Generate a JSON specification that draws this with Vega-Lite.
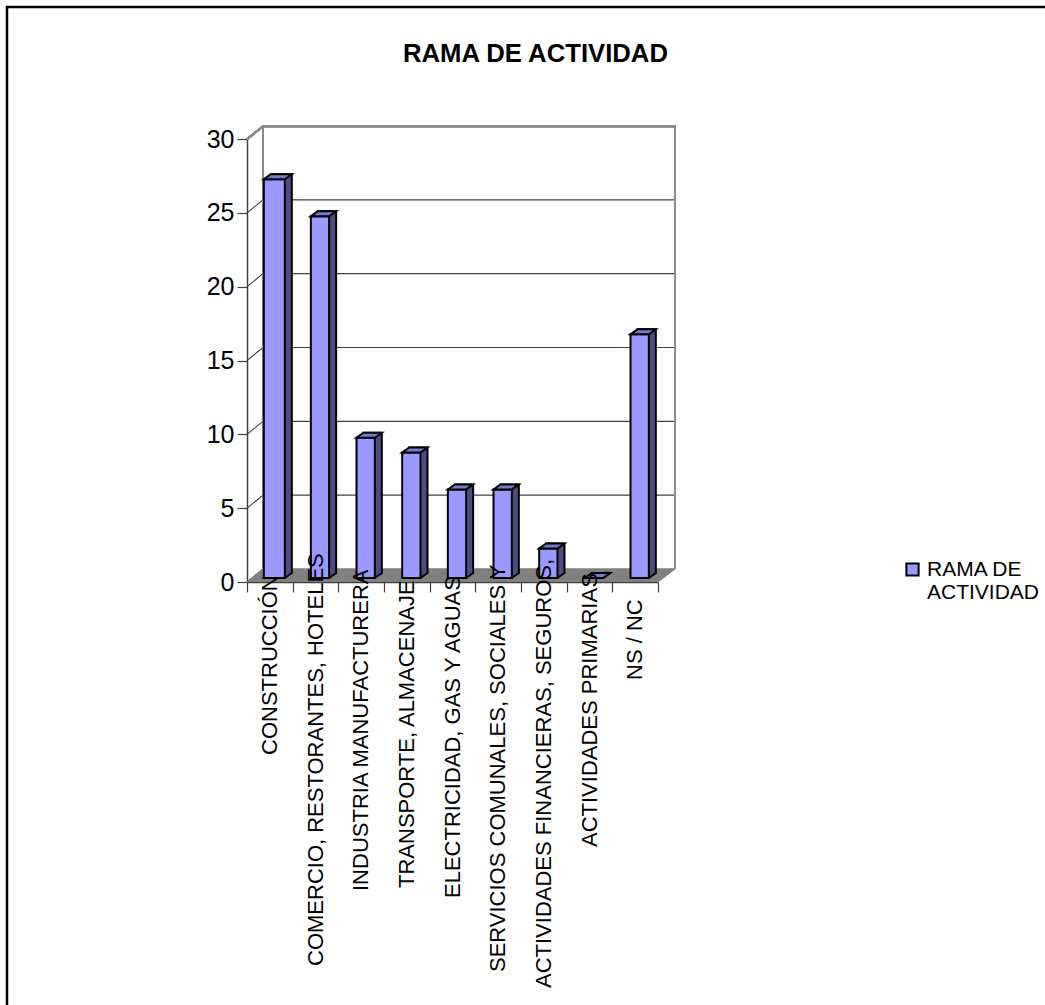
{
"$schema":"https://vega.github.io/schema/vega-lite/v6.json",
"autosize":{"type":"none"},
"padding":{"left":7,"top":7,"right":0,"bottom":0},
"width":1045,"height":1005,
"background":"white",
"view":{"stroke":"black","strokeWidth":2.5,"fill":"white"},
"title":{"text":"RAMA DE ACTIVIDAD","font":"Liberation Sans","fontSize":25.7,"fontWeight":"bold","color":"black","anchor":"start","frame":"group","dx":396,"offset":-81,"baseline":"alphabetic"},
"datasets":{
"barras":[
{"rama":"CONSTRUCCIÓN","valor":27,"serie":"RAMA DE ACTIVIDAD"},
{"rama":"COMERCIO, RESTORANTES, HOTELES","valor":24.5,"serie":"RAMA DE ACTIVIDAD"},
{"rama":"INDUSTRIA MANUFACTURERA","valor":9.5,"serie":"RAMA DE ACTIVIDAD"},
{"rama":"TRANSPORTE, ALMACENAJE","valor":8.5,"serie":"RAMA DE ACTIVIDAD"},
{"rama":"ELECTRICIDAD, GAS Y AGUAS","valor":6,"serie":"RAMA DE ACTIVIDAD"},
{"rama":"SERVICIOS COMUNALES, SOCIALES Y","valor":6,"serie":"RAMA DE ACTIVIDAD"},
{"rama":"ACTIVIDADES FINANCIERAS, SEGUROS,","valor":2,"serie":"RAMA DE ACTIVIDAD"},
{"rama":"ACTIVIDADES PRIMARIAS","valor":0,"serie":"RAMA DE ACTIVIDAD"},
{"rama":"NS / NC","valor":16.5,"serie":"RAMA DE ACTIVIDAD"}
],
"marcas":[{"v":0},{"v":5},{"v":10},{"v":15},{"v":20},{"v":25},{"v":30}]
},
"data":{"name":"barras"},
"encoding":{
"x":{"field":"rama","type":"nominal","sort":null,"title":null,
"scale":{"type":"band","paddingInner":0,"paddingOuter":0,"range":[240,651]},
"axis":{"orient":"bottom","offset":-430,"labels":false,"domainColor":"#404040","domainWidth":1.5,"tickColor":"#404040","tickWidth":1.2,"tickSize":10,"tickBand":"extent"}},
"y":{"type":"quantitative","scale":{"domain":[0,30],"range":[575,132],"nice":false},"title":null,
"axis":{"orient":"left","offset":-240,"values":[0,5,10,15,20,25,30],"grid":false,"domainColor":"#404040","domainWidth":1.5,"tickColor":"#404040","tickWidth":1.2,"tickSize":10,"labelFont":"Liberation Sans","labelFontSize":25,"labelColor":"black","labelPadding":3}}
},
"layer":[
{"data":{"name":"marcas"},"mark":{"type":"point","filled":false,"shape":"M0,0L16,-13L428,-13","size":4,"stroke":"#404040","opacity":1,"strokeWidth":1.1},"encoding":{"x":{"datum":"CONSTRUCCIÓN","type":"nominal","bandPosition":0},"y":{"field":"v","type":"quantitative"}}},
{"mark":{"type":"point","filled":true,"shape":"M0,0L411,0L428,-13L16,-13Z","size":4,"fill":"#808080","opacity":1,"strokeWidth":0},"encoding":{"x":{"datum":"CONSTRUCCIÓN","type":"nominal","bandPosition":0},"y":{"datum":0,"type":"quantitative"}}},
{"mark":{"type":"point","filled":false,"shape":"M16,-13L16,-455.8L428,-455.8L428,-13M0,-442.8L16,-455.8","size":4,"stroke":"#8c8c8c","opacity":1,"strokeWidth":2},"encoding":{"x":{"datum":"CONSTRUCCIÓN","type":"nominal","bandPosition":0},"y":{"datum":0,"type":"quantitative"}}},
{"mark":{"type":"bar","size":{"expr":"datum.rama==='CONSTRUCCIÓN'?21:18.3"},"xOffset":11.5,"yOffset":-9,"fill":"#4d4d80","stroke":"black","strokeWidth":2},"encoding":{"y":{"field":"valor","type":"quantitative"}}},
{"mark":{"type":"point","filled":true,"shape":{"expr":"datum.rama==='CONSTRUCCIÓN'?'M10.5,0L17.5,-5L16,-6.5L10.5,-6.5Z':'M9.15,0L16.15,-5L14.6,-6.5L9.15,-6.5Z'"},"size":4,"fill":"#4d4d80","strokeWidth":0,"opacity":1,"xOffset":4.5,"yOffset":-4},"encoding":{"y":{"datum":0,"type":"quantitative"}}},
{"mark":{"type":"point","filled":false,"shape":{"expr":"datum.rama==='CONSTRUCCIÓN'?'M10.5,0L17.5,-5':'M9.15,0L16.15,-5'"},"size":4,"stroke":"black","strokeWidth":2,"opacity":1,"xOffset":4.5,"yOffset":-4},"encoding":{"y":{"datum":0,"type":"quantitative"}}},
{"mark":{"type":"bar","size":{"expr":"datum.rama==='CONSTRUCCIÓN'?21:18.3"},"xOffset":4.5,"yOffset":-4,"fill":"#9999ff","stroke":"black","strokeWidth":2},"encoding":{"y":{"field":"valor","type":"quantitative"},"color":{"field":"serie","type":"nominal","scale":{"range":["#9999ff"]},"legend":{"orient":"none","legendX":895,"legendY":552,"title":null,"symbolType":"square","symbolSize":150,"symbolStrokeColor":"black","symbolStrokeWidth":2,"labelFont":"Liberation Sans","labelFontSize":21,"labelColor":"black","labelExpr":"['RAMA DE','ACTIVIDAD']","labelLimit":200,"encoding":{"labels":{"update":{"lineHeight":{"value":29}}}}}}}},
{"mark":{"type":"point","filled":true,"shape":{"expr":"datum.rama==='CONSTRUCCIÓN'?'M-10.5,0L10.5,0L17.5,-5L-3.5,-5Z':'M-9.15,0L9.15,0L16.15,-5L-2.15,-5Z'"},"size":4,"fill":"#7a7acc","stroke":"black","strokeWidth":2,"opacity":1,"xOffset":4.5,"yOffset":-4},"encoding":{"y":{"field":"valor","type":"quantitative"}}},
{"mark":{"type":"text","angle":270,"align":"left","baseline":"middle","font":"Liberation Sans","fontSize":22,"color":"black",
"yOffset":{"expr":"{'CONSTRUCCIÓN':173,'COMERCIO, RESTORANTES, HOTELES':384,'INDUSTRIA MANUFACTURERA':309,'TRANSPORTE, ALMACENAJE':306,'ELECTRICIDAD, GAS Y AGUAS':316,'SERVICIOS COMUNALES, SOCIALES Y':390,'ACTIVIDADES FINANCIERAS, SEGUROS,':406,'ACTIVIDADES PRIMARIAS':265,'NS / NC':98}[datum.rama]"}},
"encoding":{"y":{"datum":0,"type":"quantitative"},"text":{"field":"rama","type":"nominal"}}}
]
}
